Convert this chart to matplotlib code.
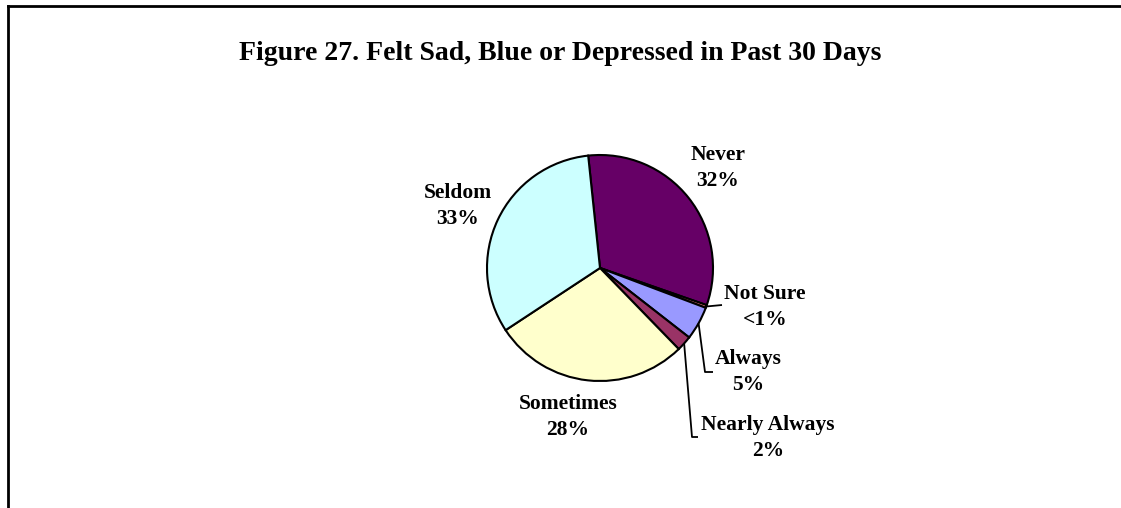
import matplotlib
matplotlib.use("Agg")
import matplotlib.pyplot as plt
import numpy as np

categories = ["Never", "Not Sure", "Always", "Nearly Always", "Sometimes", "Seldom"]
values = [32.0, 0.4, 4.8, 2.2, 28.0, 32.6]
pct_labels = ["32%", "<1%", "5%", "2%", "28%", "33%"]
colors = ["#660066", "#FF8080", "#9999FF", "#993366", "#FFFFCC", "#CCFFFF"]

W, H = 1121, 508
fig = plt.figure(figsize=(W / 100, H / 100), dpi=100)
ax = fig.add_axes([0, 0, 1, 1])

cx, cy, r = 600, H - 268, 113
wedges, _ = ax.pie(values, colors=colors, startangle=96, counterclock=False,
                   center=(cx, cy), radius=r,
                   wedgeprops=dict(edgecolor="black", linewidth=1.5))
ax.set_xlim(0, W)
ax.set_ylim(0, H)
ax.set_aspect("equal")
ax.axis("off")

font = dict(family="Liberation Serif", weight="bold", size=15.5)

# label positions (pixel coords, y measured from top)
label_pos = {
    "Never": (718, 168),
    "Not Sure": (765, 307),
    "Always": (748, 372),
    "Nearly Always": (768, 438),
    "Sometimes": (568, 417),
    "Seldom": (458, 206),
}
for cat, pct in zip(categories, pct_labels):
    x, y = label_pos[cat]
    ax.text(x, H - y, f"{cat}\n{pct}", ha="center", va="center",
            multialignment="center", linespacing=1.45, **font)

# leader lines for small slices
def edge_point(w):
    th = np.deg2rad((w.theta1 + w.theta2) / 2)
    return cx + r * np.cos(th), cy + r * np.sin(th)

leaders = {
    "Not Sure": [(722, 305)],
    "Always": [(705, 372), (713, 372)],
    "Nearly Always": [(692, 437), (698, 437)],
}
for w, cat in zip(wedges, categories):
    if cat in leaders:
        ex, ey = edge_point(w)
        xs = [ex] + [p[0] for p in leaders[cat]]
        ys = [ey] + [H - p[1] for p in leaders[cat]]
        ax.plot(xs, ys, color="black", lw=1.3, solid_capstyle="butt")

fig.text(560 / W, 1 - 53 / H, "Figure 27. Felt Sad, Blue or Depressed in Past 30 Days",
         ha="center", va="center", family="Liberation Serif", weight="bold", size=20)

# frame (left and top edges visible)
fig.add_artist(plt.Line2D([7.5 / W, 7.5 / W], [0, 1 - 6 / H], color="black", lw=2,
                          transform=fig.transFigure))
fig.add_artist(plt.Line2D([7.5 / W, 1.0], [1 - 6 / H, 1 - 6 / H], color="black", lw=2,
                          transform=fig.transFigure))

fig.savefig("out.png", dpi=100)
